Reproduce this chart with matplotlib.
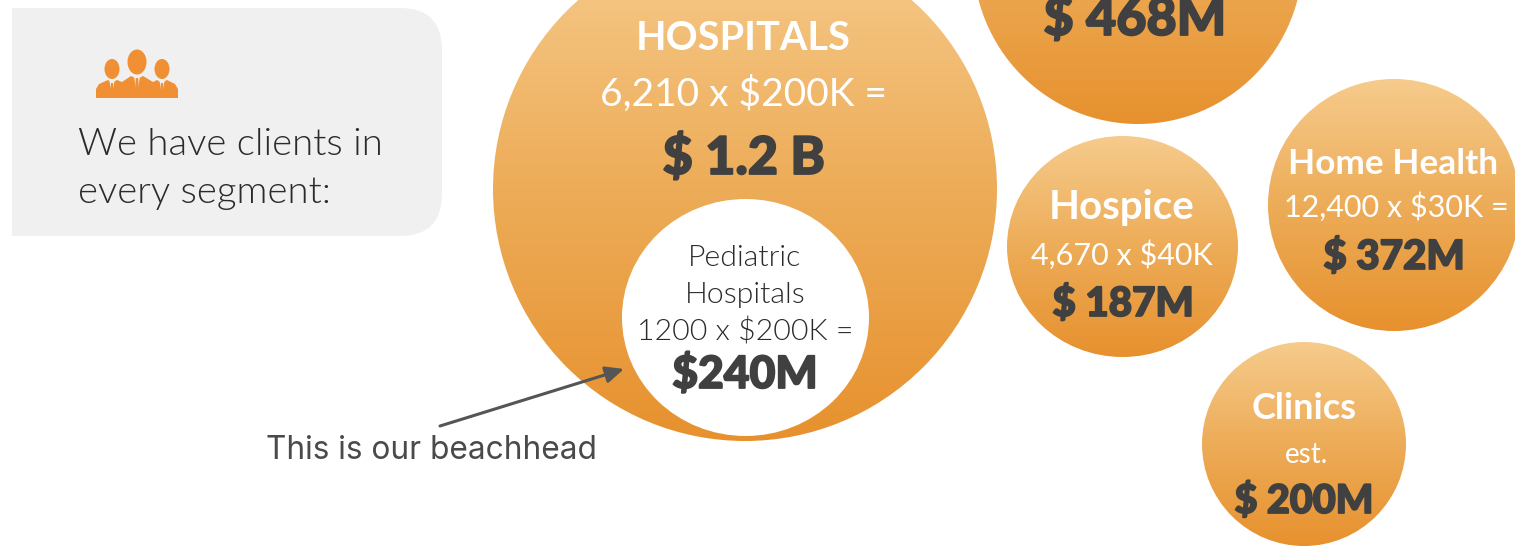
#!/usr/bin/env python3
"""Market size bubbles, one per customer segment."""

import os
import numpy as np
import matplotlib
matplotlib.use('Agg')
import matplotlib.pyplot as plt
from matplotlib import font_manager as fm
from matplotlib.patches import Ellipse, PathPatch, Polygon
from matplotlib.path import Path
from matplotlib.colors import LinearSegmentedColormap
import matplotlib.patheffects as pe

segments = ['HOSPITALS', 'Hospice', 'Home Health', 'Clinics']
formulas = ['6,210 x $200K =', '4,670 x $40K', '12,400 x $30K =', 'est.']
totals = ['$ 1.2 B', '$ 187M', '$ 372M', '$ 200M']
top_total = '$ 468M'
inner_lines = ['Pediatric', 'Hospitals', '1200 x $200K =']
inner_total = '$240M'
intro_lines = ['We have clients in', 'every segment:']
callout = 'This is our beachhead'

W, H = 1515, 548
DARK = '#404040'
ORANGE = '#F18F34'

plt.rcParams['font.family'] = ['Lato', 'DejaVu Sans']


def lato(style, weight):
    """Pick a Lato cut by file name, the weight matching mixes up Light and Hairline."""
    for f in fm.findSystemFonts():
        if os.path.basename(f).lower() == f'lato-{style}.ttf':
            return fm.FontProperties(fname=f)
    return fm.FontProperties(family='Lato', weight=weight)


LIGHT = lato('light', 'normal')
BLACK = lato('black', 'bold')

fig = plt.figure(figsize=(W / 100, H / 100), dpi=100)
ax = fig.add_axes([0, 0, 1, 1])
ax.set_xlim(0, W)
ax.set_ylim(H, 0)
ax.axis('off')

grad = LinearSegmentedColormap.from_list('bubble', ['#F6CB8C', '#EDAC58', '#E7912E'])
ramp = np.linspace(0, 1, 256).reshape(-1, 1)


def bubble(cx, cy, rx, ry, bottom=None):
    """Ellipse filled with a top to bottom gradient."""
    y0, y1 = cy - ry, cy + ry
    e = Ellipse((cx, cy), 2 * rx, 2 * ry, fc='none', ec='none')
    ax.add_patch(e)
    im = ax.imshow(ramp, cmap=grad, aspect='auto', zorder=1,
                   extent=(cx - rx, cx + rx, y1 if bottom is None else bottom, y0))
    im.set_clip_path(e)


def heavy(x, y, s, size):
    t = ax.text(x, y, s, color=DARK, ha='center', va='baseline', zorder=4,
                fontproperties=BLACK, clip_on=False,
                path_effects=[pe.withStroke(linewidth=1.3, foreground=DARK)])
    t.set_fontsize(size)


def plain(x, y, s, size, color='white', weight='normal'):
    ax.text(x, y, s, color=color, fontsize=size, fontweight=weight, ha='center',
            va='baseline', zorder=4)


def thin(x, y, s, size, ha='center', color='#2B2B2B'):
    t = ax.text(x, y, s, color=color, ha=ha, va='baseline', zorder=4, fontproperties=LIGHT)
    t.set_fontsize(size)


# grey intro box, only the right corners are rounded
x0, x1, y0, y1, r = 12, 442, 8, 236, 42
verts = [(x0, y0), (x1 - r, y0), (x1, y0), (x1, y0 + r), (x1, y1 - r), (x1, y1),
         (x1 - r, y1), (x0, y1), (x0, y0)]
codes = [Path.MOVETO, Path.LINETO, Path.CURVE3, Path.CURVE3, Path.LINETO, Path.CURVE3,
         Path.CURVE3, Path.LINETO, Path.CLOSEPOLY]
ax.add_patch(PathPatch(Path(verts, codes), fc='#F0F0F0', ec='none', zorder=0))

# people icon
for cx, cy, rx, ry in [(112, 69, 7.5, 10), (137, 62, 9.5, 12.5), (162, 69, 7.5, 10)]:
    ax.add_patch(Ellipse((cx, cy), 2 * rx, 2 * ry, fc=ORANGE, ec='none', zorder=2))
ax.add_patch(Polygon([(96, 98), (96, 89), (99, 84), (108, 80), (112, 83), (117, 80), (122, 82),
                      (131, 76), (137, 79), (143, 76), (153, 82), (157, 80), (162, 83),
                      (167, 80), (175, 84), (178, 89), (178, 98)],
                     fc=ORANGE, ec='none', zorder=2))
for tx, ty, w, h in [(112, 81, 2.5, 9), (137, 76, 3, 12), (162, 81, 2.5, 9)]:
    ax.add_patch(Polygon([(tx - w, ty), (tx + w, ty), (tx + w * 0.4, ty + h), (tx - w * 0.4, ty + h)],
                         fc='#F0F0F0', ec='none', zorder=2))
    ax.add_patch(Polygon([(tx - w * 0.4, ty + 2), (tx + w * 0.4, ty + 2), (tx + w * 0.6, ty + h),
                          (tx - w * 0.6, ty + h)], fc=ORANGE, ec='none', zorder=2))

thin(78, 155, intro_lines[0], 27.6, ha='left')
thin(78, 203, intro_lines[1], 27.6, ha='left')

# bubbles
bubble(745, 189, 252, 252, bottom=441)
bubble(1138, -43, 165, 167)
bubble(1122.5, 246.5, 115.5, 110.5)
bubble(1394, 205, 126, 126)
bubble(1304, 444, 102, 102)
ax.add_patch(Ellipse((745.5, 317.5), 247, 237, fc='white', ec='none', zorder=3))

heavy(1135, 35, top_total, 37.5)

plain(743, 50, segments[0], 28.5, weight='bold')
plain(743, 106, formulas[0], 28)
heavy(744, 174, totals[0], 37.5)

plain(1122, 219, segments[1], 29, weight='bold')
plain(1122, 265, formulas[1], 22)
heavy(1123, 316, totals[1], 29)

plain(1393, 174, segments[2], 25.4, weight='bold')
plain(1396, 217, formulas[2], 22)
heavy(1394, 269, totals[2], 29)

plain(1304, 419, segments[3], 26, weight='bold')
plain(1306, 463, formulas[3], 20)
heavy(1304, 513, totals[3], 28.5)

for y, s in zip([266, 303, 340], inner_lines):
    thin(745, y, s, 21.8)
heavy(745, 388, inner_total, 32)

# callout
ax.annotate('', xy=(624, 369), xytext=(440, 426), zorder=5,
            arrowprops=dict(arrowstyle='-|>,head_length=1.1,head_width=0.5', color='#555555',
                            lw=2.2, shrinkA=0, shrinkB=0))
ax.text(266, 459, callout, color='#4A4A4A', fontsize=22.8, family=['Inter', 'DejaVu Sans'], va='baseline')

fig.savefig('out.png', dpi=100)
plt.close(fig)
